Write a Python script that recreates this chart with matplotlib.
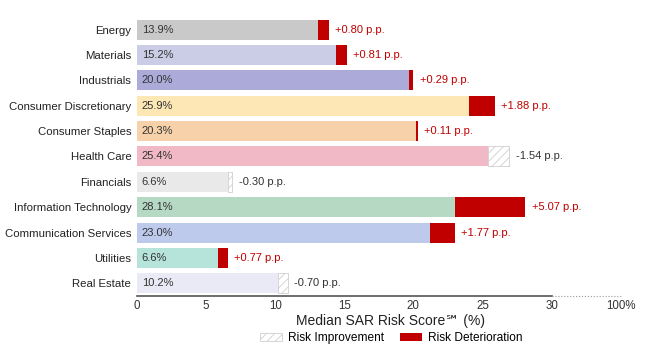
import matplotlib
matplotlib.use("Agg")
import matplotlib.pyplot as plt
from matplotlib.patches import Patch

plt.rcParams['font.family'] = ['Liberation Sans', 'DejaVu Sans']
plt.rcParams['hatch.linewidth'] = 0.6

sectors = ["Energy", "Materials", "Industrials", "Consumer Discretionary",
           "Consumer Staples", "Health Care", "Financials", "Information Technology",
           "Communication Services", "Utilities", "Real Estate"]
score = [13.9, 15.2, 20.0, 25.9, 20.3, 25.4, 6.6, 28.1, 23.0, 6.6, 10.2]
change = [0.80, 0.81, 0.29, 1.88, 0.11, -1.54, -0.30, 5.07, 1.77, 0.77, -0.70]
colors = ["#c9c9c9", "#cbcde6", "#abaad9", "#fde7b5", "#f6d1aa", "#f1b9c6",
          "#e9e9e9", "#b6d9c3", "#bdcaec", "#b6e4db", "#e9eaf5"]
ticks = [0, 5, 10, 15, 20, 25, 30]

red = "#c00000"
hatch_col = "#cfcfcf"

fig = plt.figure(figsize=(6.52, 3.54), dpi=100)
ax = fig.add_axes([0.210, 0.164, 0.742, 0.788])

y = list(range(len(sectors)))
for i in y:
    s, d = score[i], change[i]
    if d > 0:
        base = s - d
        ax.barh(i, base, height=0.79, color=colors[i])
        ax.barh(i, d, left=base, height=0.79, color=red)
        end = s
        ax.text(end + 0.45, i, "+%.2f p.p." % d, va="center", ha="left",
                fontsize=8, color=red)
    else:
        ax.barh(i, s, height=0.79, color=colors[i])
        ax.barh(i, -d, left=s, height=0.79, color="white", edgecolor=hatch_col,
                hatch="////", linewidth=0.6)
        end = s - d
        ax.text(end + 0.45, i, "%.2f p.p." % d, va="center", ha="left",
                fontsize=8, color="#333333")
    ax.text(0.35, i, "%.1f%%" % s, va="center", ha="left", fontsize=8, color="#333333")

ax.set_xlim(0, 35)
ax.set_ylim(10.5, -0.5)
ax.set_yticks(y)
ax.set_yticklabels(sectors, fontsize=8.2, color="#222222")
ax.set_xticks(ticks + [35])
ax.set_xticklabels([str(t) for t in ticks] + ["100%"], fontsize=8.3, color="#333333")
ax.tick_params(length=0, pad=3)
ax.tick_params(axis="y", pad=4)

for side in ["top", "right", "left", "bottom"]:
    ax.spines[side].set_visible(False)
ax.plot([0, 30], [10.5, 10.5], color="#555555", lw=1.2, clip_on=False)
ax.plot([30, 35], [10.5, 10.5], color="#999999", lw=0.8, ls=":", clip_on=False)

ax.set_xlabel("Median SAR Risk Score\u2120 (%)", fontsize=10, color="#222222")
ax.xaxis.set_label_coords(0.525, -0.065)

handles = [Patch(facecolor="white", edgecolor=hatch_col, hatch="////", linewidth=0.6,
                 label="Risk Improvement"),
           Patch(facecolor=red, label="Risk Deterioration")]
fig.legend(handles=handles, loc="center", bbox_to_anchor=(0.60, 0.045), ncol=2,
           frameon=False, fontsize=8.6, handlelength=1.8, handleheight=0.6,
           columnspacing=1.4, handletextpad=0.5)

fig.savefig("out.png", dpi=100)
